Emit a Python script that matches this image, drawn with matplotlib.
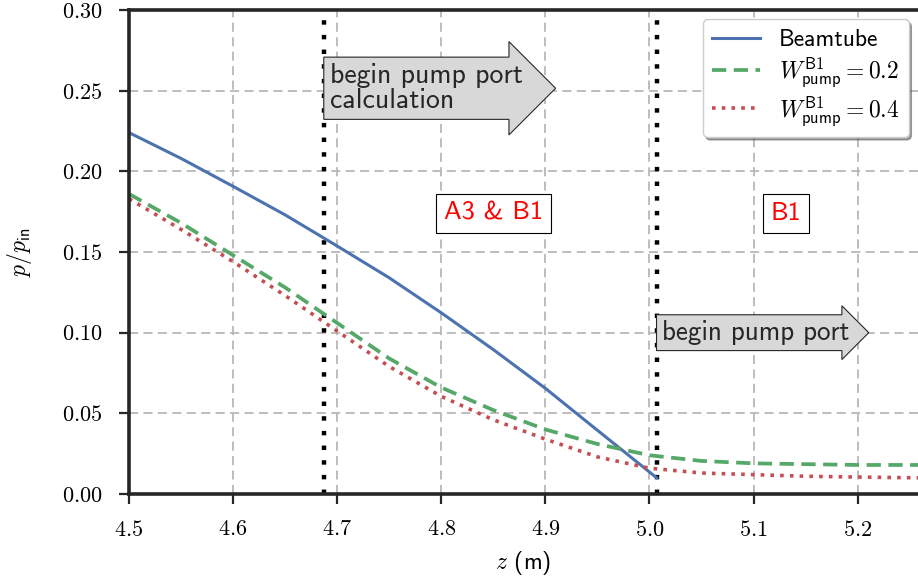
import numpy as np
import matplotlib
matplotlib.use("Agg")
import matplotlib.pyplot as plt

plt.rcParams['mathtext.fontset'] = 'cm'
plt.rcParams['font.family'] = ['cmss10', 'DejaVu Sans']
plt.rcParams['axes.unicode_minus'] = False

# data
z_tube = [4.50, 4.55, 4.60, 4.65, 4.70, 4.75, 4.80, 4.85, 4.90, 4.95, 5.007]
p_tube = [0.224, 0.208, 0.1907, 0.173, 0.1537, 0.134, 0.1123, 0.0895, 0.0655, 0.0395, 0.010]

z_w = [4.50, 4.55, 4.60, 4.65, 4.70, 4.75, 4.80, 4.85, 4.90, 4.95, 5.00, 5.05, 5.10, 5.15, 5.20, 5.26]
p_w02 = [0.186, 0.168, 0.148, 0.128, 0.106, 0.084, 0.066, 0.052, 0.040, 0.031, 0.024, 0.0205, 0.019, 0.0185, 0.018, 0.018]
p_w04 = [0.183, 0.164, 0.144, 0.123, 0.101, 0.079, 0.0605, 0.046, 0.034, 0.023, 0.016, 0.013, 0.012, 0.011, 0.0105, 0.010]

z_lines = [4.687, 5.007]
xticks = [4.5, 4.6, 4.7, 4.8, 4.9, 5.0, 5.1, 5.2]
yticks = [0.00, 0.05, 0.10, 0.15, 0.20, 0.25, 0.30]

fig = plt.figure(figsize=(9.18, 5.78), dpi=100)
ax = fig.add_axes([129/918, 84/578, 1 - 129/918, 484/578])

ax.plot(z_tube, p_tube, color='#4C72B0', lw=2.2, label='Beamtube')
ax.plot(z_w, p_w02, color='#55A868', lw=2.7, ls=(0, (3.8, 2)),
        label=r'$W^{\mathsf{B1}}_{\mathsf{pump}} = 0.2$')
ax.plot(z_w, p_w04, color='#C44E52', lw=2.6, ls=(0, (1, 1.7)),
        label=r'$W^{\mathsf{B1}}_{\mathsf{pump}} = 0.4$')

for zl in z_lines:
    ax.axvline(zl, color='k', lw=3.2, ls=(0, (1, 2.3)), zorder=1)

ax.set_xlim(4.5, 5.258)
ax.set_ylim(0, 0.30)
ax.set_xticks(xticks)
ax.set_xticklabels([f'${v:.1f}$' for v in xticks])
ax.set_yticks(yticks)
ax.set_yticklabels([f'${v:.2f}$' for v in yticks])
ax.tick_params(labelsize=16, direction='out', length=7, width=1.6, color='#262626', pad=12)
ax.grid(True, color='#b8b8b8', ls='--', lw=1.3, dashes=(5, 3))
ax.set_axisbelow(True)

for s in ['left', 'top', 'bottom']:
    ax.spines[s].set_linewidth(2.6)
    ax.spines[s].set_color('#262626')
ax.spines['right'].set_visible(False)

ax.set_xlabel(r'$z$ (m)', fontsize=17, labelpad=6)
ax.set_ylabel(r'$p/p_{\mathsf{in}}$', fontsize=17, labelpad=20)

ax.text(4.85, 0.174, 'A3 & B1', color='red', fontsize=19, ha='center', va='center',
        bbox=dict(boxstyle='square,pad=0.3', fc='white', ec='k', lw=0.8))
ax.text(5.131, 0.174, 'B1', color='red', fontsize=19, ha='center', va='center',
        bbox=dict(boxstyle='square,pad=0.3', fc='white', ec='k', lw=0.8))

ax.text(4.693, 0.2515, 'begin pump port\ncalculation', fontsize=20, color='#262626',
        ha='left', va='center', linespacing=1.0,
        bbox=dict(boxstyle='rarrow,pad=0.22', fc='#d8d8d8', ec='#262626', lw=0.8))
ax.text(5.012, 0.1, 'begin pump port', fontsize=19.5, color='#262626',
        ha='left', va='center',
        bbox=dict(boxstyle='rarrow,pad=0.2', fc='#d8d8d8', ec='#262626', lw=0.8))

leg = ax.legend(loc='upper right', fontsize=17, frameon=True, fancybox=True, shadow=True,
                handlelength=2.0, borderpad=0.4, labelspacing=0.2, framealpha=1,
                borderaxespad=0.4)
leg.get_frame().set_edgecolor('#cccccc')

fig.savefig('out.png', dpi=100)
